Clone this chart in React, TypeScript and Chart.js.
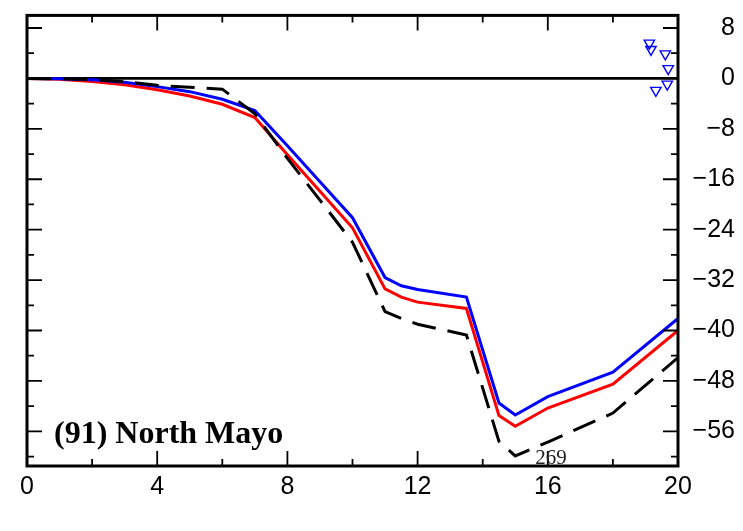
import React, { useEffect, useRef } from "react";
import { Chart, registerables } from "chart.js";

Chart.register(...registerables);

const xKnots = [0, 1, 2, 3, 4, 5, 6, 7, 8, 9, 10, 11, 11.5, 12, 13.5, 14.5, 15, 16, 18, 20];
const blueSeries = [0, -0.05, -0.2, -0.6, -1.3, -2.1, -3.3, -5.1, -10.7, -16.4, -22.1, -31.6, -32.9, -33.5, -34.7, -51.5, -53.4, -50.5, -46.6, -38.1];
const redSeries = [0, -0.15, -0.5, -1.0, -1.8, -2.8, -4.1, -6.2, -12.1, -17.9, -23.7, -33.4, -34.7, -35.5, -36.5, -53.5, -55.2, -52.3, -48.5, -40.0];
const dashedSeries = [0, -0.05, -0.2, -0.5, -1.1, -1.4, -1.7, -5.6, -12.7, -19.3, -26.0, -37.0, -38.1, -39.0, -40.7, -57.6, -59.9, -57.7, -53.1, -44.3];
const markerX = [19.12, 19.17, 19.61, 19.7, 19.67, 19.32];
const markerY = [5.6, 4.6, 3.9, 1.55, -0.9, -1.9];
const zeroLineX = [0, 20];
const zeroLineY = [0, 0];
const xTickLabels = [0, 4, 8, 12, 16, 20];
const yTickLabels = [8, 0, -8, -16, -24, -32, -40, -48, -56];
const xMinorTicks = [2, 6, 10, 14, 18];
const yMinorTicks = [4, -4, -12, -20, -28, -36, -44, -52, -60];
const titleText = "(91) North Mayo";
const noteText = "269";
const noteX = 16.1;

const pts = (xs: number[], ys: number[]) => xs.map((x, i) => ({ x, y: ys[i] }));

const framePlugin = {
  id: "frame",
  afterDatasetsDraw(chart: any) {
    const { ctx, chartArea: a, scales } = chart;
    const xs = scales.x;
    const ys = scales.y;
    ctx.save();
    ctx.strokeStyle = "#000";
    ctx.lineWidth = 1.8;
    ctx.beginPath();
    const major = 15;
    const minor = 7;
    for (const v of xTickLabels) {
      const p = xs.getPixelForValue(v);
      ctx.moveTo(p, a.bottom); ctx.lineTo(p, a.bottom - major);
      ctx.moveTo(p, a.top); ctx.lineTo(p, a.top + major);
    }
    for (const v of xMinorTicks) {
      const p = xs.getPixelForValue(v);
      ctx.moveTo(p, a.bottom); ctx.lineTo(p, a.bottom - minor);
      ctx.moveTo(p, a.top); ctx.lineTo(p, a.top + minor);
    }
    for (const v of yTickLabels) {
      const p = ys.getPixelForValue(v);
      ctx.moveTo(a.left, p); ctx.lineTo(a.left + major, p);
      ctx.moveTo(a.right, p); ctx.lineTo(a.right - major, p);
    }
    for (const v of yMinorTicks) {
      const p = ys.getPixelForValue(v);
      ctx.moveTo(a.left, p); ctx.lineTo(a.left + minor, p);
      ctx.moveTo(a.right, p); ctx.lineTo(a.right - minor, p);
    }
    ctx.stroke();
    ctx.lineWidth = 3;
    ctx.strokeRect(a.left, a.top, a.right - a.left, a.bottom - a.top);

    ctx.fillStyle = "#000";
    ctx.font = "bold 32px 'Liberation Serif', 'DejaVu Serif', serif";
    ctx.textAlign = "left";
    ctx.textBaseline = "alphabetic";
    ctx.fillText(titleText, a.left + 27, a.bottom - 23);

    ctx.fillStyle = "#222";
    ctx.font = "21px 'Liberation Serif', 'DejaVu Serif', serif";
    ctx.textAlign = "center";
    ctx.fillText(noteText, xs.getPixelForValue(noteX), a.bottom - 2);
    ctx.restore();
  },
};

export default function App() {
  const ref = useRef<HTMLCanvasElement | null>(null);
  useEffect(() => {
    if (!ref.current) return;
    const chart = new Chart(ref.current, {
      type: "scatter",
      data: {
        datasets: [
          {
            label: "markers",
            data: pts(markerX, markerY),
            showLine: false,
            pointStyle: "triangle",
            rotation: 180,
            pointRadius: 6,
            pointBorderWidth: 1.4,
            borderColor: "#0000ff",
            backgroundColor: "rgba(0,0,0,0)",
          },
          {
            label: "dashed",
            data: pts(xKnots, dashedSeries),
            showLine: true,
            borderColor: "#000",
            borderWidth: 3,
            borderDash: [24, 12],
            pointRadius: 0,
            tension: 0,
          },
          {
            label: "blue",
            data: pts(xKnots, blueSeries),
            showLine: true,
            borderColor: "#0000ff",
            borderWidth: 3,
            pointRadius: 0,
            tension: 0,
          },
          {
            label: "red",
            data: pts(xKnots, redSeries),
            showLine: true,
            borderColor: "#ff0000",
            borderWidth: 3,
            pointRadius: 0,
            tension: 0,
          },
          {
            label: "zero",
            data: pts(zeroLineX, zeroLineY),
            showLine: true,
            borderColor: "#000",
            borderWidth: 2.8,
            pointRadius: 0,
          },
        ],
      },
      options: {
        animation: false,
        responsive: false,
        layout: { padding: { left: 19, top: 5, right: 0, bottom: 0 } },
        plugins: { legend: { display: false }, tooltip: { enabled: false } },
        scales: {
          x: {
            type: "linear",
            min: 0,
            max: 20,
            grid: { display: false, drawTicks: false },
            border: { display: false },
            afterBuildTicks: (s: any) => { s.ticks = xTickLabels.map((v) => ({ value: v })); },
            afterFit: (s: any) => { s.height = 57; s.paddingLeft = 0; s.paddingRight = 0; },
            ticks: {
              padding: 6,
              color: "#000",
              maxRotation: 0,
              font: { family: "'Liberation Sans', Arial, sans-serif", size: 25 },
              callback: (v: any) => String(v),
            },
          },
          y: {
            type: "linear",
            position: "right",
            min: -61.5,
            max: 10,
            grid: { display: false, drawTicks: false },
            border: { display: false },
            afterBuildTicks: (s: any) => { s.ticks = yTickLabels.map((v) => ({ value: v })); },
            afterFit: (s: any) => { s.width = 57; s.paddingTop = 0; s.paddingBottom = 0; },
            ticks: {
              padding: 6,
              crossAlign: "far",
              color: "#000",
              font: { family: "'Liberation Sans', Arial, sans-serif", size: 25 },
              callback: (v: any) => (v < 0 ? "\u2212" + Math.abs(v) : String(v)),
            },
          },
        },
      },
      plugins: [framePlugin],
    });
    return () => chart.destroy();
  }, []);
  return (
    <div style={{ width: 727, height: 515 }}>
      <canvas ref={ref} width={727} height={515} style={{ display: "block" }} />
    </div>
  );
}
